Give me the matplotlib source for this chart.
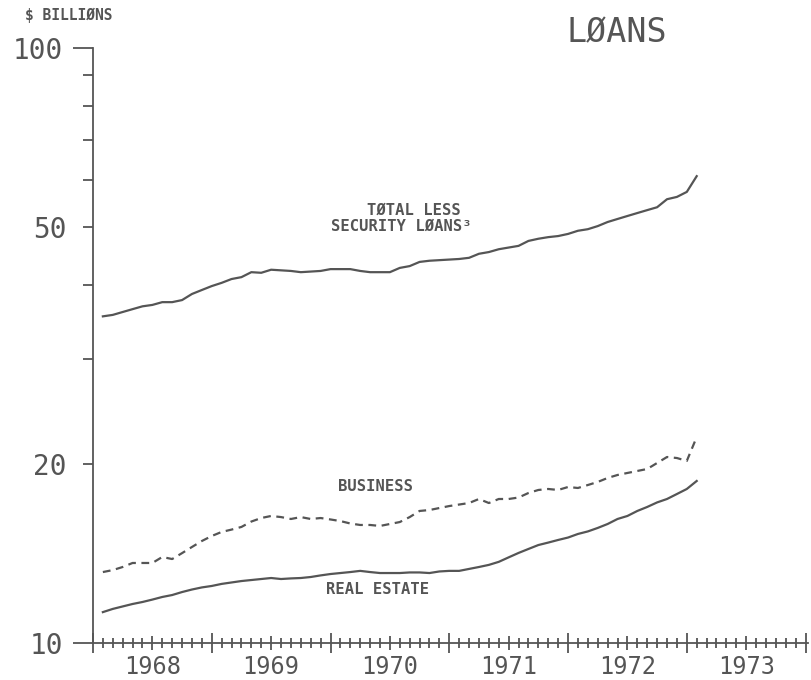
import numpy as np
import matplotlib
matplotlib.use("Agg")
import matplotlib.pyplot as plt
from matplotlib.ticker import FixedLocator, FuncFormatter, NullFormatter

# monthly data, Jan 1968 - Jan 1973, $ billions
start_year = 1968
total_less_security = [
    35.4, 35.6, 36.0, 36.4, 36.8, 37.0, 37.4, 37.4, 37.7, 38.6,
    39.2, 39.8, 40.3, 40.9, 41.2, 42.0, 41.9, 42.4, 42.3, 42.2,
    42.0, 42.1, 42.2, 42.5, 42.5, 42.5, 42.2, 42.0, 42.0, 42.0,
    42.7, 43.0, 43.7, 43.9, 44.0, 44.1, 44.2, 44.4, 45.1, 45.4,
    45.9, 46.2, 46.5, 47.4, 47.8, 48.1, 48.3, 48.7, 49.3, 49.6,
    50.2, 51.0, 51.6, 52.2, 52.8, 53.4, 54.0, 55.7, 56.2, 57.3, 60.9,
]
business = [
    13.16, 13.26, 13.42, 13.63, 13.63, 13.63, 13.95, 13.84, 14.16, 14.50,
    14.84, 15.13, 15.37, 15.51, 15.67, 16.00, 16.22, 16.35, 16.28, 16.16,
    16.28, 16.16, 16.22, 16.13, 16.03, 15.88, 15.79, 15.79, 15.73, 15.85,
    15.97, 16.28, 16.67, 16.73, 16.86, 16.99, 17.09, 17.19, 17.46, 17.19,
    17.46, 17.46, 17.56, 17.87, 18.08, 18.15, 18.08, 18.29, 18.22, 18.43,
    18.65, 18.94, 19.16, 19.31, 19.46, 19.61, 20.07, 20.54, 20.46, 20.23, 22.19,
]
real_estate = [
    11.27, 11.41, 11.52, 11.63, 11.72, 11.83, 11.95, 12.04, 12.18, 12.30,
    12.40, 12.47, 12.57, 12.64, 12.71, 12.76, 12.81, 12.86, 12.81, 12.84,
    12.86, 12.91, 12.99, 13.06, 13.11, 13.16, 13.22, 13.16, 13.11, 13.11,
    13.11, 13.14, 13.14, 13.11, 13.19, 13.22, 13.22, 13.32, 13.42, 13.53,
    13.69, 13.93, 14.17, 14.39, 14.61, 14.75, 14.90, 15.04, 15.25, 15.40,
    15.61, 15.85, 16.16, 16.35, 16.67, 16.93, 17.23, 17.46, 17.80, 18.15, 18.72,
]
years = [1968, 1969, 1970, 1971, 1972, 1973]
y_labelled = [10, 20, 50, 100]

# month-end positions in fractional years
x = start_year + np.arange(1, len(total_less_security) + 1) / 12

INK = "#555555"
plt.rcParams["font.family"] = ["DejaVu Sans Mono", "DejaVu Sans"]
plt.rcParams["text.color"] = INK

fig = plt.figure(figsize=(8.12, 6.80), dpi=100)
ax = fig.add_axes([0.1145, 0.0544, 0.8805, 0.875])

ax.plot(x, total_less_security, color=INK, lw=1.6)
ax.plot(x, business, color=INK, lw=1.6, ls=(0, (3.5, 2.5)))
ax.plot(x, real_estate, color=INK, lw=1.6)

ax.set_yscale("log")
ax.set_ylim(10, 100)
ax.set_xlim(1968, 1974.02)

# y axis: long ticks at 10 and 100, short ones between
ax.yaxis.set_major_locator(FixedLocator([10, 100]))
ax.yaxis.set_minor_locator(FixedLocator([20, 30, 40, 50, 60, 70, 80, 90]))
fmt = FuncFormatter(lambda v, p: f"{v:.0f}" if round(v) in y_labelled else "")
ax.yaxis.set_major_formatter(fmt)
ax.yaxis.set_minor_formatter(fmt)
ax.tick_params(axis="y", which="major", length=14.4, width=1.3, pad=7,
               labelsize=20, colors=INK)
ax.tick_params(axis="y", which="minor", length=7.2, width=1.3, pad=12,
               labelsize=20, colors=INK)

# x axis: year ticks, monthly ticks
ax.xaxis.set_major_locator(FixedLocator(list(range(1968, 1975))))
ax.xaxis.set_major_formatter(NullFormatter())
months = [1968 + k / 12 for k in range(1, 72) if k % 6 != 0]
ax.xaxis.set_minor_locator(FixedLocator(months))
ax.tick_params(axis="x", which="major", length=14.4, width=1.3,
               direction="inout", colors=INK)
ax.tick_params(axis="x", which="minor", length=7.2, width=1.3,
               direction="inout", colors=INK)

# mid-year ticks carry the year labels
sec = ax.secondary_xaxis("bottom")
sec.set_xticks([y + 0.5 for y in years], labels=[str(y) for y in years])
sec.spines["bottom"].set_visible(False)
sec.tick_params(length=9.4, width=1.3, direction="inout", labelsize=17,
                pad=4, colors=INK)

for side in ["top", "right"]:
    ax.spines[side].set_visible(False)
for side in ["left", "bottom"]:
    ax.spines[side].set_color(INK)
    ax.spines[side].set_linewidth(1.3)

lab = dict(fontsize=11.2, fontweight="bold", ha="center", va="center", color=INK)
ax.text(1970.70, 53.4, "TØTAL LESS", **lab)
ax.text(1970.60, 50.2, "SECURITY LØANS³", **lab)
ax.text(1970.38, 18.36, "BUSINESS", **lab)
ax.text(1970.40, 12.32, "REAL ESTATE", **lab)

fig.text(0.031, 0.978, "$ BILLIØNS", fontsize=10.5, fontweight="bold",
         ha="left", va="center", color=INK)
fig.text(0.760, 0.951, "LØANS", fontsize=24, ha="center", va="center", color=INK)

fig.savefig("out.png", dpi=100)
